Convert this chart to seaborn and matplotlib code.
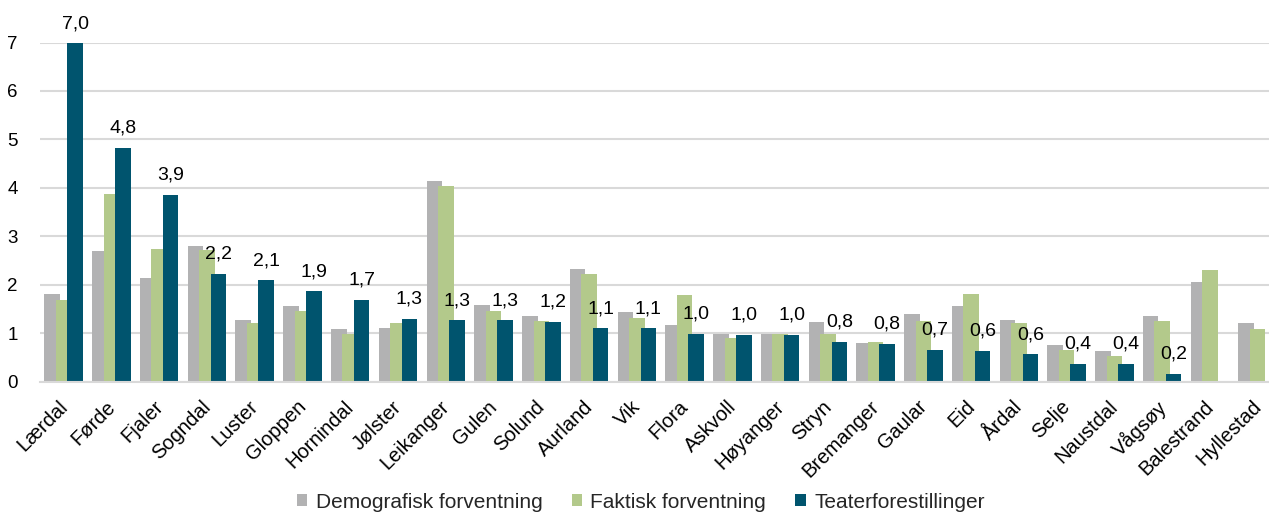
import math
import numpy as np
import pandas as pd
import matplotlib
matplotlib.use("Agg")
import matplotlib.pyplot as plt
import matplotlib.transforms as mtransforms
import seaborn as sns

kommuner = ["Lærdal", "Førde", "Fjaler", "Sogndal", "Luster", "Gloppen", "Hornindal",
            "Jølster", "Leikanger", "Gulen", "Solund", "Aurland", "Vik", "Flora",
            "Askvoll", "Høyanger", "Stryn", "Bremanger", "Gaular", "Eid", "Årdal",
            "Selje", "Naustdal", "Vågsøy", "Balestrand", "Hyllestad"]

demografisk = [1.80, 2.69, 2.13, 2.80, 1.28, 1.56, 1.09, 1.10, 4.14, 1.57, 1.36, 2.32,
               1.43, 1.16, 0.99, 0.99, 1.23, 0.79, 1.39, 1.56, 1.28, 0.76, 0.63, 1.36,
               2.06, 1.20]
faktisk = [1.69, 3.88, 2.74, 2.71, 1.21, 1.45, 0.98, 1.20, 4.03, 1.46, 1.24, 2.21,
           1.32, 1.78, 0.89, 0.99, 0.98, 0.81, 1.24, 1.81, 1.20, 0.65, 0.52, 1.25,
           2.31, 1.08]
teater = [6.98, 4.82, 3.86, 2.22, 2.09, 1.86, 1.69, 1.29, 1.26, 1.26, 1.23, 1.10,
          1.10, 0.98, 0.96, 0.96, 0.82, 0.78, 0.66, 0.63, 0.56, 0.36, 0.36, 0.16,
          np.nan, np.nan]

serier = ["Demografisk forventning", "Faktisk forventning", "Teaterforestillinger"]
farger = ["#b2b2b3", "#b3c98b", "#00546e"]

rows = []
for s, vals in zip(serier, [demografisk, faktisk, teater]):
    for k, v in zip(kommuner, vals):
        rows.append({"Kommune": k, "Serie": s, "Verdi": v})
df = pd.DataFrame(rows)

sns.set_theme(style="white")
plt.rcParams["font.family"] = ["Liberation Sans", "DejaVu Sans"]

W, H = 1269, 515
fig = plt.figure(figsize=(W / 100, H / 100), dpi=100)
left_px, right_px = 39.8, 1269.0
top_px, bottom_px = 42.5, 381.5
ax = fig.add_axes([left_px / W, (H - bottom_px) / H,
                   (right_px - left_px) / W, (bottom_px - top_px) / H])

BAR_W_TOTAL = 0.81
sns.barplot(data=df, x="Kommune", y="Verdi", hue="Serie", order=kommuner,
            hue_order=serier, palette=farger, width=BAR_W_TOTAL, gap=0, dodge=True,
            errorbar=None, linewidth=0, saturation=1, ax=ax, legend=True)

# Excel-style overlapping bars: each bar wider than its step
sns_step = BAR_W_TOTAL / 3
new_step = 0.24
new_w = 0.325
for i, cont in enumerate(ax.containers):
    for b in cont:
        c = b.get_x() + b.get_width() / 2
        cat = c - (i - 1) * sns_step
        nc = cat + (i - 1) * new_step
        b.set_x(nc - new_w / 2)
        b.set_width(new_w)

cat_px = 47.76
ax.set_xlim(-0.5, -0.5 + (right_px - left_px) / cat_px)
ax.set_ylim(0, 7)
ax.set_yticks(range(0, 8))
ax.yaxis.grid(True, color="#d9d9d9", linewidth=1.5)
ax.set_axisbelow(True)
for sp in ["top", "right", "left"]:
    ax.spines[sp].set_visible(False)
ax.spines["bottom"].set_color("#d9d9d9")
ax.spines["bottom"].set_linewidth(1.5)
ax.set_xlabel("")
ax.set_ylabel("")
ax.tick_params(axis="y", length=0, pad=16, labelsize=13.5, labelcolor="black")
ax.tick_params(axis="x", length=0, pad=4, labelsize=14.5, labelcolor="black")
shift = mtransforms.ScaledTranslation(-6 / 100, -10 / 100, fig.dpi_scale_trans)
for lab in ax.get_xticklabels():
    lab.set_rotation(45)
    lab.set_ha("right")
    lab.set_rotation_mode("anchor")
    lab.set_transform(lab.get_transform() + shift)

def fmt(v):
    if v is None or (isinstance(v, float) and math.isnan(v)):
        return ""
    return f"{v:.1f}".replace(".", ",")

teal_cont = ax.containers[2]
labels = [fmt(b.get_height()) for b in teal_cont]
ax.bar_label(teal_cont, labels=labels, padding=8, fontsize=14, color="black",
             clip_on=False)
for b in teal_cont:
    b.set_clip_on(False)

handles, lbls = ax.get_legend_handles_labels()
ax.legend_.remove()
fig.legend(handles, lbls, loc="lower center", bbox_to_anchor=(0.505, -0.03),
           ncol=3, frameon=False, fontsize=15, handlelength=0.5, handleheight=0.5,
           handletextpad=0.4, columnspacing=1.4)

fig.savefig("out.png", dpi=100)
